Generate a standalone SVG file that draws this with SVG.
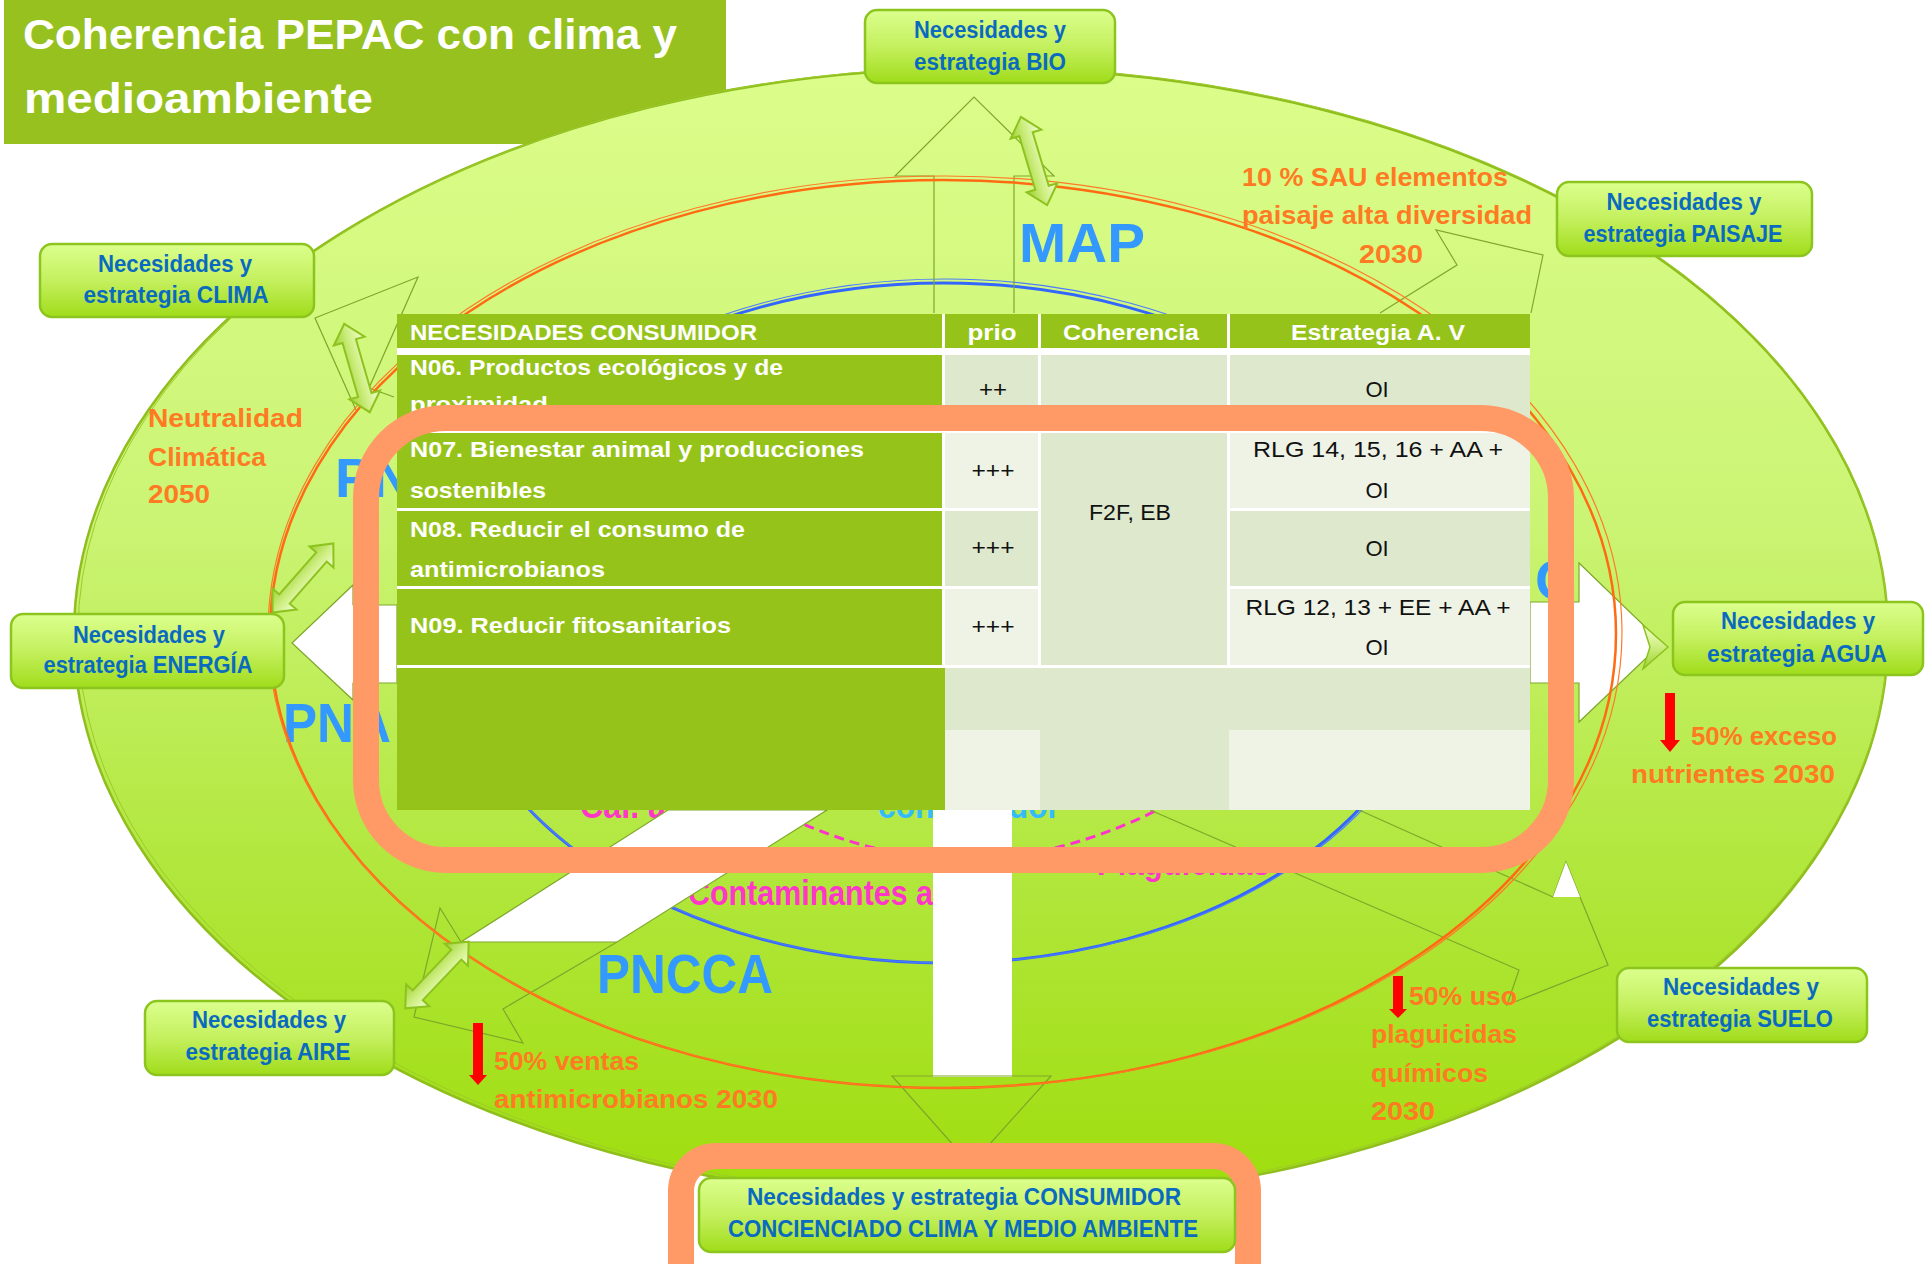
<svg xmlns="http://www.w3.org/2000/svg" width="1930" height="1264" viewBox="0 0 1930 1264">
<defs>
<linearGradient id="ringGrad" x1="0" y1="0" x2="0" y2="1">
<stop offset="0" stop-color="#DCFD8A"/>
<stop offset="0.4" stop-color="#CBF474"/>
<stop offset="0.7" stop-color="#B2E73E"/>
<stop offset="1" stop-color="#9EDD0C"/>
</linearGradient>
<linearGradient id="boxGrad" x1="0" y1="0" x2="0" y2="1">
<stop offset="0" stop-color="#DCFF8E"/>
<stop offset="0.5" stop-color="#C4F05E"/>
<stop offset="1" stop-color="#A0DC1A"/>
</linearGradient>
<linearGradient id="dblGrad" x1="0" y1="0" x2="0" y2="1">
<stop offset="0" stop-color="#F2FFD0"/>
<stop offset="0.5" stop-color="#CDEE80"/>
<stop offset="1" stop-color="#9FD132"/>
</linearGradient>
<path id="dbl" d="M-46,0 L-28,-16 L-28,-7 L28,-7 L28,-16 L46,0 L28,16 L28,7 L-28,7 L-28,16 Z"/>
</defs>
<style>
.t{font-family:"Liberation Sans",Arial,sans-serif;font-weight:bold}
.box rect{fill:url(#boxGrad);stroke:#8CC51E;stroke-width:2.5}
.box text{fill:#0A6AC0;font-size:23px;text-anchor:middle}
.org{fill:#FF7A22;font-size:26px}
.big{fill:#3399FF;font-size:56px}
.pink{fill:#FF36C8;font-size:35px}
.ol{fill:none;stroke:#7FA72A;stroke-width:1.2}
.wh{fill:#FFFFFF;stroke:#7FA72A;stroke-width:1.2}
.cg{fill:#96C31A}
.ca{fill:#DDE8CC}
.cb{fill:#EEF3E5}
.tw{fill:#FFFFFF;font-size:22px}
.tk{fill:#111111;font-size:22px;font-weight:normal;text-anchor:middle}
.dbl{fill:url(#dblGrad);stroke:#8DC21F;stroke-width:2}
.red{fill:#FF0000}
.frame{fill:none;stroke:#FF9966;stroke-width:26}
</style>

<g id="title">
<rect x="4" y="0" width="722" height="144" fill="#97C11F"/>
<text class="t" x="23" y="49" font-size="43" fill="#FFFFFF" textLength="654" lengthAdjust="spacingAndGlyphs">Coherencia PEPAC con clima y</text>
<text class="t" x="24" y="113" font-size="43" fill="#FFFFFF" textLength="349" lengthAdjust="spacingAndGlyphs">medioambiente</text>
</g>

<g id="background">
<ellipse cx="981" cy="635" rx="907" ry="567" fill="url(#ringGrad)" stroke="#8FBE1E" stroke-width="2.5"/>
<ellipse cx="983" cy="633" rx="905" ry="566" fill="none" stroke="#9DCB2A" stroke-width="1"/>
<ellipse cx="944" cy="623" rx="496" ry="340" fill="none" stroke="#3366FF" stroke-width="3"/>
<ellipse cx="946" cy="621" rx="499" ry="342" fill="none" stroke="#4D7DFF" stroke-width="1.2"/>
<path d="M790,818 Q975,905 1165,806" fill="none" stroke="#FF33CC" stroke-width="3" stroke-dasharray="10 6"/>
</g>

<g id="inner-labels">
<text class="t big" x="335" y="497">PN</text>
<text class="t big" x="283" y="742" textLength="108" lengthAdjust="spacingAndGlyphs">PNA</text>
<text class="t big" x="1535" y="599">C</text>
<text class="t big" x="1019" y="262" textLength="126" lengthAdjust="spacingAndGlyphs">MAP</text>
<text class="t big" x="597" y="993" textLength="176" lengthAdjust="spacingAndGlyphs">PNCCA</text>
<text class="t pink" x="580" y="818" textLength="95" lengthAdjust="spacingAndGlyphs">Cal. ai</text>
<text class="t pink" x="688" y="905" textLength="245" lengthAdjust="spacingAndGlyphs">Contaminantes a</text>
<text class="t pink" x="1097" y="875" textLength="173" lengthAdjust="spacingAndGlyphs">Plaguicidas</text>
<text class="t" x="878" y="818" font-size="35" fill="#33BBFF" textLength="182" lengthAdjust="spacingAndGlyphs">consumidor</text>
</g>

<g id="connectors">
<polygon class="wh" points="397,605 353,605 353,585 292,643 353,700 353,683 397,683"/>
<polygon class="wh" points="1530,602 1579,602 1579,563 1662,643 1579,722 1579,683 1530,683"/>
<rect x="933" y="805" width="79" height="272" fill="#FFFFFF"/>
<polygon class="ol" points="892,1076 1051,1076 971,1165" fill="#A5E218"/>
<polyline class="ol" points="934,313 934,176 895,176 974,97 1054,176 1014,176 1014,313"/>
<polygon class="wh" points="461,942 617,942 827,810 668,810"/>
<polyline class="ol" points="617,942 503,1009 523,1043 414,1017 440,908 461,942"/>
<polyline class="ol" points="356,410 315,318 418,277 369,388 394,397"/>
<polyline class="ol" points="1380,313 1457,265 1436,230 1543,255 1531,313"/>
<polyline class="ol" points="1150,810 1519,970 1507,1005 1608,965 1580,897 1566,862 1553,897 1359,810"/>
<polygon points="1553,897 1566,862 1580,897" fill="#FFFFFF"/>
<ellipse cx="943" cy="634" rx="673" ry="454" fill="none" stroke="#FF6A13" stroke-width="2.5"/>
<ellipse cx="945" cy="632" rx="677" ry="456" fill="none" stroke="#FF7B2A" stroke-width="1.2"/>
<use href="#dbl" class="dbl" transform="translate(1034,161) rotate(73.4)"/>
<use href="#dbl" class="dbl" transform="translate(357,368) rotate(73.9)"/>
<use href="#dbl" class="dbl" transform="translate(303,578) rotate(131.3)"/>
<use href="#dbl" class="dbl" transform="translate(437,975) rotate(133.6)"/>
<polygon points="1643,625 1668,647 1643,669 1650,647" fill="url(#dblGrad)" stroke="#8DC21F" stroke-width="1.5"/>
</g>

<g id="table">
<rect x="397" y="314" width="1133" height="496" fill="#FFFFFF"/>
<rect class="cg" x="397" y="314" width="545" height="34"/>
<rect class="cg" x="945" y="314" width="93" height="34"/>
<rect class="cg" x="1041" y="314" width="186" height="34"/>
<rect class="cg" x="1230" y="314" width="300" height="34"/>
<rect class="cg" x="397" y="355" width="545" height="75"/>
<rect class="ca" x="945" y="355" width="93" height="75"/>
<rect class="ca" x="1041" y="355" width="186" height="75"/>
<rect class="ca" x="1230" y="355" width="300" height="75"/>
<rect class="cg" x="397" y="433" width="545" height="75"/>
<rect class="cb" x="945" y="433" width="93" height="75"/>
<rect class="ca" x="1041" y="433" width="186" height="232"/>
<rect class="cb" x="1230" y="433" width="300" height="75"/>
<rect class="cg" x="397" y="511" width="545" height="75"/>
<rect class="ca" x="945" y="511" width="93" height="75"/>
<rect class="ca" x="1230" y="511" width="300" height="75"/>
<rect class="cg" x="397" y="589" width="545" height="76"/>
<rect class="cb" x="945" y="589" width="93" height="76"/>
<rect class="cb" x="1230" y="589" width="300" height="76"/>
<rect class="cg" x="397" y="668" width="548" height="142"/>
<rect class="ca" x="945" y="668" width="585" height="62"/>
<rect class="cb" x="945" y="730" width="95" height="80"/>
<rect class="ca" x="1040" y="730" width="189" height="80"/>
<rect class="cb" x="1229" y="730" width="301" height="80"/>
<text class="t tw" x="410" y="340" textLength="347" lengthAdjust="spacingAndGlyphs">NECESIDADES CONSUMIDOR</text>
<text class="t tw" x="992" y="340" text-anchor="middle" textLength="49" lengthAdjust="spacingAndGlyphs">prio</text>
<text class="t tw" x="1131" y="340" text-anchor="middle" textLength="136" lengthAdjust="spacingAndGlyphs">Coherencia</text>
<text class="t tw" x="1378" y="340" text-anchor="middle" textLength="174" lengthAdjust="spacingAndGlyphs">Estrategia A. V</text>
<text class="t tw" x="410" y="375" textLength="373" lengthAdjust="spacingAndGlyphs">N06. Productos ecológicos y de</text>
<text class="t tw" x="410" y="412" textLength="138" lengthAdjust="spacingAndGlyphs">proximidad</text>
<text class="t tw" x="410" y="457" textLength="454" lengthAdjust="spacingAndGlyphs">N07. Bienestar animal y producciones</text>
<text class="t tw" x="410" y="498" textLength="136" lengthAdjust="spacingAndGlyphs">sostenibles</text>
<text class="t tw" x="410" y="537" textLength="335" lengthAdjust="spacingAndGlyphs">N08. Reducir el consumo de</text>
<text class="t tw" x="410" y="577" textLength="195" lengthAdjust="spacingAndGlyphs">antimicrobianos</text>
<text class="t tw" x="410" y="633" textLength="321" lengthAdjust="spacingAndGlyphs">N09. Reducir fitosanitarios</text>
<text class="t tk" x="993" y="397" textLength="28" lengthAdjust="spacingAndGlyphs">++</text>
<text class="t tk" x="1377" y="397">OI</text>
<text class="t tk" x="993" y="478" textLength="43" lengthAdjust="spacingAndGlyphs">+++</text>
<text class="t tk" x="1378" y="457" textLength="250" lengthAdjust="spacingAndGlyphs">RLG 14, 15, 16 + AA +</text>
<text class="t tk" x="1377" y="498">OI</text>
<text class="t tk" x="1130" y="520" textLength="82" lengthAdjust="spacingAndGlyphs">F2F, EB</text>
<text class="t tk" x="993" y="555" textLength="43" lengthAdjust="spacingAndGlyphs">+++</text>
<text class="t tk" x="1377" y="556">OI</text>
<text class="t tk" x="993" y="634" textLength="43" lengthAdjust="spacingAndGlyphs">+++</text>
<text class="t tk" x="1378" y="615" textLength="265" lengthAdjust="spacingAndGlyphs">RLG 12, 13 + EE + AA +</text>
<text class="t tk" x="1377" y="655">OI</text>
</g>

<g id="frames">
<rect class="frame" x="366" y="418" width="1195" height="442" rx="80" ry="80"/>
<rect class="frame" x="681" y="1156" width="567" height="150" rx="35" ry="35"/>
</g>

<g id="targets">
<text class="t org" x="1242" y="186" textLength="266" lengthAdjust="spacingAndGlyphs">10 % SAU elementos</text>
<text class="t org" x="1242" y="224" textLength="290" lengthAdjust="spacingAndGlyphs">paisaje alta diversidad</text>
<text class="t org" x="1359" y="263" textLength="64" lengthAdjust="spacingAndGlyphs">2030</text>
<text class="t org" x="148" y="427" textLength="155" lengthAdjust="spacingAndGlyphs">Neutralidad</text>
<text class="t org" x="148" y="466" textLength="118" lengthAdjust="spacingAndGlyphs">Climática</text>
<text class="t org" x="148" y="503" textLength="62" lengthAdjust="spacingAndGlyphs">2050</text>
<text class="t org" x="1691" y="745" textLength="146" lengthAdjust="spacingAndGlyphs">50% exceso</text>
<text class="t org" x="1631" y="783" textLength="204" lengthAdjust="spacingAndGlyphs">nutrientes 2030</text>
<text class="t org" x="494" y="1070" textLength="145" lengthAdjust="spacingAndGlyphs">50% ventas</text>
<text class="t org" x="494" y="1108" textLength="284" lengthAdjust="spacingAndGlyphs">antimicrobianos 2030</text>
<text class="t org" x="1409" y="1005" textLength="108" lengthAdjust="spacingAndGlyphs">50% uso</text>
<text class="t org" x="1371" y="1043" textLength="146" lengthAdjust="spacingAndGlyphs">plaguicidas</text>
<text class="t org" x="1371" y="1082" textLength="117" lengthAdjust="spacingAndGlyphs">químicos</text>
<text class="t org" x="1371" y="1120" textLength="64" lengthAdjust="spacingAndGlyphs">2030</text>
<path class="red" d="M1665,693 h10 v47 h5 l-10,12 l-10,-12 h5 z"/>
<path class="red" d="M473,1023 h10 v52 h4 l-9,10 l-9,-10 h4 z"/>
<path class="red" d="M1393,976 h10 v33 h4 l-9,9 l-9,-9 h4 z"/>
</g>

<g id="node-bio" class="box">
<rect x="865" y="10" width="250" height="73" rx="12" ry="12"/>
<text class="t" x="990" y="38" textLength="152" lengthAdjust="spacingAndGlyphs">Necesidades y</text>
<text class="t" x="990" y="70" textLength="152" lengthAdjust="spacingAndGlyphs">estrategia BIO</text>
</g>
<g id="node-paisaje" class="box">
<rect x="1557" y="182" width="255" height="74" rx="12" ry="12"/>
<text class="t" x="1684" y="210" textLength="155" lengthAdjust="spacingAndGlyphs">Necesidades y</text>
<text class="t" x="1683" y="242" textLength="199" lengthAdjust="spacingAndGlyphs">estrategia PAISAJE</text>
</g>
<g id="node-clima" class="box">
<rect x="40" y="244" width="274" height="73" rx="12" ry="12"/>
<text class="t" x="175" y="272" textLength="154" lengthAdjust="spacingAndGlyphs">Necesidades y</text>
<text class="t" x="176" y="303" textLength="185" lengthAdjust="spacingAndGlyphs">estrategia CLIMA</text>
</g>
<g id="node-energia" class="box">
<rect x="11" y="614" width="273" height="74" rx="12" ry="12"/>
<text class="t" x="149" y="643" textLength="152" lengthAdjust="spacingAndGlyphs">Necesidades y</text>
<text class="t" x="148" y="673" textLength="209" lengthAdjust="spacingAndGlyphs">estrategia ENERGÍA</text>
</g>
<g id="node-agua" class="box">
<rect x="1673" y="602" width="250" height="73" rx="12" ry="12"/>
<text class="t" x="1798" y="629" textLength="154" lengthAdjust="spacingAndGlyphs">Necesidades y</text>
<text class="t" x="1797" y="662" textLength="180" lengthAdjust="spacingAndGlyphs">estrategia AGUA</text>
</g>
<g id="node-aire" class="box">
<rect x="145" y="1001" width="249" height="74" rx="12" ry="12"/>
<text class="t" x="269" y="1028" textLength="154" lengthAdjust="spacingAndGlyphs">Necesidades y</text>
<text class="t" x="268" y="1060" textLength="165" lengthAdjust="spacingAndGlyphs">estrategia AIRE</text>
</g>
<g id="node-suelo" class="box">
<rect x="1617" y="968" width="250" height="74" rx="12" ry="12"/>
<text class="t" x="1741" y="995" textLength="156" lengthAdjust="spacingAndGlyphs">Necesidades y</text>
<text class="t" x="1740" y="1027" textLength="186" lengthAdjust="spacingAndGlyphs">estrategia SUELO</text>
</g>
<g id="node-consumidor" class="box">
<rect x="699" y="1178" width="536" height="74" rx="12" ry="12"/>
<text class="t" x="964" y="1205" textLength="434" lengthAdjust="spacingAndGlyphs">Necesidades y estrategia CONSUMIDOR</text>
<text class="t" x="963" y="1237" textLength="470" lengthAdjust="spacingAndGlyphs">CONCIENCIADO CLIMA Y MEDIO AMBIENTE</text>
</g>
</svg>
